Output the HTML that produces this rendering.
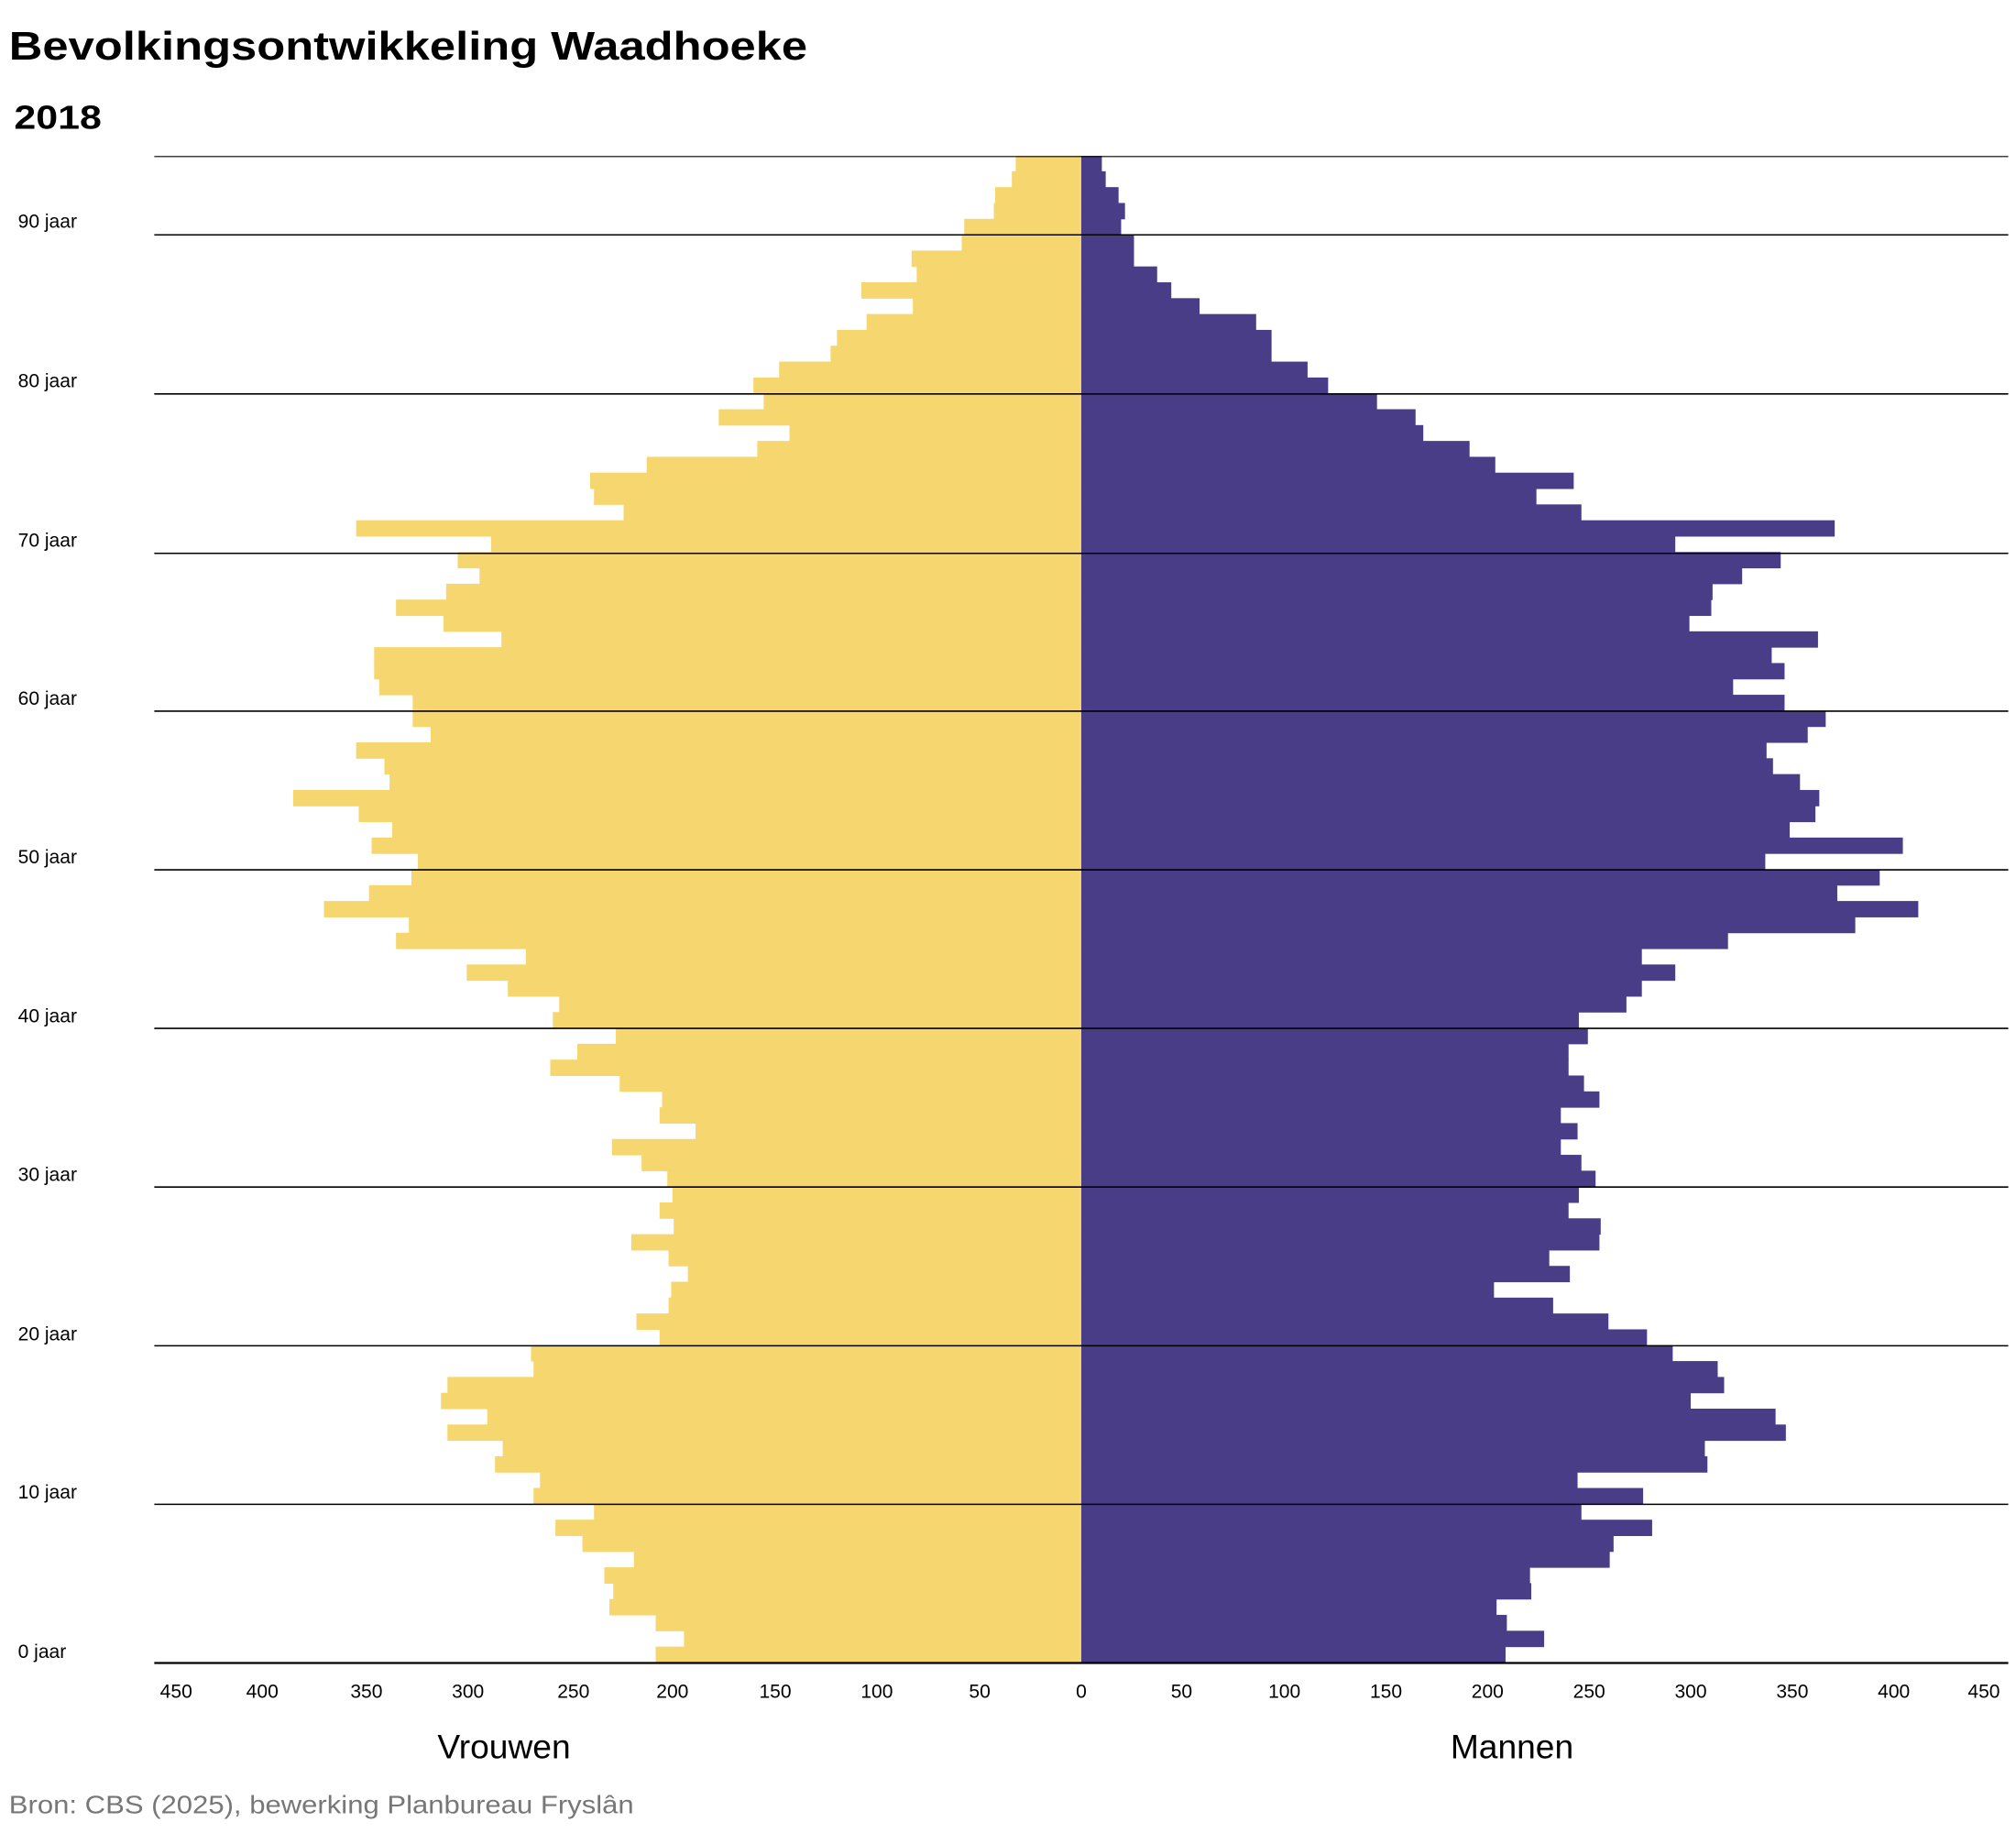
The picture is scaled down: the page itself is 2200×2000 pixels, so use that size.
<!DOCTYPE html>
<html><head><meta charset="utf-8"><style>html,body{margin:0;padding:0;background:#fff}svg{display:block}</style></head>
<body>
<svg width="2200" height="2000" viewBox="0 0 1568 1425" xmlns="http://www.w3.org/2000/svg" font-family="Liberation Sans, sans-serif">
<rect width="1568" height="1425" fill="#fff"/>
<text x="7" y="46" font-size="31" font-weight="bold" textLength="621" lengthAdjust="spacingAndGlyphs">Bevolkingsontwikkeling Waadhoeke</text>
<text x="11" y="100" font-size="26" font-weight="bold" textLength="68" lengthAdjust="spacingAndGlyphs">2018</text>
<g transform="matrix(1 0 0 -12.337 0 1293)">
<g fill="#F5D66F">
<rect x="510" y="0" width="331" height="1.03"/><rect x="532" y="1" width="309" height="1.03"/><rect x="510" y="2" width="331" height="1.03"/><rect x="474" y="3" width="367" height="1.03"/><rect x="477" y="4" width="364" height="1.03"/><rect x="470" y="5" width="371" height="1.03"/><rect x="493" y="6" width="348" height="1.03"/><rect x="453" y="7" width="388" height="1.03"/><rect x="432" y="8" width="409" height="1.03"/><rect x="462" y="9" width="379" height="1.03"/>
<rect x="415" y="10" width="426" height="1.03"/><rect x="420" y="11" width="421" height="1.03"/><rect x="385" y="12" width="456" height="1.03"/><rect x="391" y="13" width="450" height="1.03"/><rect x="348" y="14" width="493" height="1.03"/><rect x="379" y="15" width="462" height="1.03"/><rect x="343" y="16" width="498" height="1.03"/><rect x="348" y="17" width="493" height="1.03"/><rect x="415" y="18" width="426" height="1.03"/><rect x="413" y="19" width="428" height="1.03"/>
<rect x="513" y="20" width="328" height="1.03"/><rect x="495" y="21" width="346" height="1.03"/><rect x="520" y="22" width="321" height="1.03"/><rect x="522" y="23" width="319" height="1.03"/><rect x="535" y="24" width="306" height="1.03"/><rect x="520" y="25" width="321" height="1.03"/><rect x="491" y="26" width="350" height="1.03"/><rect x="524" y="27" width="317" height="1.03"/><rect x="513" y="28" width="328" height="1.03"/><rect x="523" y="29" width="318" height="1.03"/>
<rect x="519" y="30" width="322" height="1.03"/><rect x="499" y="31" width="342" height="1.03"/><rect x="476" y="32" width="365" height="1.03"/><rect x="541" y="33" width="300" height="1.03"/><rect x="513" y="34" width="328" height="1.03"/><rect x="515" y="35" width="326" height="1.03"/><rect x="482" y="36" width="359" height="1.03"/><rect x="428" y="37" width="413" height="1.03"/><rect x="449" y="38" width="392" height="1.03"/><rect x="479" y="39" width="362" height="1.03"/>
<rect x="430" y="40" width="411" height="1.03"/><rect x="435" y="41" width="406" height="1.03"/><rect x="395" y="42" width="446" height="1.03"/><rect x="363" y="43" width="478" height="1.03"/><rect x="409" y="44" width="432" height="1.03"/><rect x="308" y="45" width="533" height="1.03"/><rect x="318" y="46" width="523" height="1.03"/><rect x="252" y="47" width="589" height="1.03"/><rect x="287" y="48" width="554" height="1.03"/><rect x="320" y="49" width="521" height="1.03"/>
<rect x="325" y="50" width="516" height="1.03"/><rect x="289" y="51" width="552" height="1.03"/><rect x="305" y="52" width="536" height="1.03"/><rect x="279" y="53" width="562" height="1.03"/><rect x="228" y="54" width="613" height="1.03"/><rect x="303" y="55" width="538" height="1.03"/><rect x="299" y="56" width="542" height="1.03"/><rect x="277" y="57" width="564" height="1.03"/><rect x="335" y="58" width="506" height="1.03"/><rect x="321" y="59" width="520" height="1.03"/>
<rect x="321" y="60" width="520" height="1.03"/><rect x="295" y="61" width="546" height="1.03"/><rect x="291" y="62" width="550" height="1.03"/><rect x="291" y="63" width="550" height="1.03"/><rect x="390" y="64" width="451" height="1.03"/><rect x="345" y="65" width="496" height="1.03"/><rect x="308" y="66" width="533" height="1.03"/><rect x="347" y="67" width="494" height="1.03"/><rect x="373" y="68" width="468" height="1.03"/><rect x="356" y="69" width="485" height="1.03"/>
<rect x="382" y="70" width="459" height="1.03"/><rect x="277" y="71" width="564" height="1.03"/><rect x="485" y="72" width="356" height="1.03"/><rect x="462" y="73" width="379" height="1.03"/><rect x="459" y="74" width="382" height="1.03"/><rect x="503" y="75" width="338" height="1.03"/><rect x="589" y="76" width="252" height="1.03"/><rect x="614" y="77" width="227" height="1.03"/><rect x="559" y="78" width="282" height="1.03"/><rect x="594" y="79" width="247" height="1.03"/>
<rect x="586" y="80" width="255" height="1.03"/><rect x="606" y="81" width="235" height="1.03"/><rect x="646" y="82" width="195" height="1.03"/><rect x="651" y="83" width="190" height="1.03"/><rect x="674" y="84" width="167" height="1.03"/><rect x="710" y="85" width="131" height="1.03"/><rect x="670" y="86" width="171" height="1.03"/><rect x="713" y="87" width="128" height="1.03"/><rect x="709" y="88" width="132" height="1.03"/><rect x="748" y="89" width="93" height="1.03"/>
<rect x="750" y="90" width="91" height="1.03"/><rect x="773" y="91" width="68" height="1.03"/><rect x="774" y="92" width="67" height="1.03"/><rect x="787" y="93" width="54" height="1.03"/><rect x="790" y="94" width="51" height="1"/>
</g>
<g fill="#4A3D88">
<rect x="841" y="0" width="330" height="1.03"/><rect x="841" y="1" width="360" height="1.03"/><rect x="841" y="2" width="331" height="1.03"/><rect x="841" y="3" width="323" height="1.03"/><rect x="841" y="4" width="350" height="1.03"/><rect x="841" y="5" width="349" height="1.03"/><rect x="841" y="6" width="411" height="1.03"/><rect x="841" y="7" width="414" height="1.03"/><rect x="841" y="8" width="444" height="1.03"/><rect x="841" y="9" width="389" height="1.03"/>
<rect x="841" y="10" width="437" height="1.03"/><rect x="841" y="11" width="386" height="1.03"/><rect x="841" y="12" width="487" height="1.03"/><rect x="841" y="13" width="485" height="1.03"/><rect x="841" y="14" width="548" height="1.03"/><rect x="841" y="15" width="540" height="1.03"/><rect x="841" y="16" width="474" height="1.03"/><rect x="841" y="17" width="500" height="1.03"/><rect x="841" y="18" width="495" height="1.03"/><rect x="841" y="19" width="460" height="1.03"/>
<rect x="841" y="20" width="440" height="1.03"/><rect x="841" y="21" width="410" height="1.03"/><rect x="841" y="22" width="367" height="1.03"/><rect x="841" y="23" width="321" height="1.03"/><rect x="841" y="24" width="380" height="1.03"/><rect x="841" y="25" width="364" height="1.03"/><rect x="841" y="26" width="403" height="1.03"/><rect x="841" y="27" width="404" height="1.03"/><rect x="841" y="28" width="379" height="1.03"/><rect x="841" y="29" width="387" height="1.03"/>
<rect x="841" y="30" width="400" height="1.03"/><rect x="841" y="31" width="389" height="1.03"/><rect x="841" y="32" width="373" height="1.03"/><rect x="841" y="33" width="386" height="1.03"/><rect x="841" y="34" width="373" height="1.03"/><rect x="841" y="35" width="403" height="1.03"/><rect x="841" y="36" width="391" height="1.03"/><rect x="841" y="37" width="379" height="1.03"/><rect x="841" y="38" width="379" height="1.03"/><rect x="841" y="39" width="394" height="1.03"/>
<rect x="841" y="40" width="387" height="1.03"/><rect x="841" y="41" width="424" height="1.03"/><rect x="841" y="42" width="436" height="1.03"/><rect x="841" y="43" width="462" height="1.03"/><rect x="841" y="44" width="436" height="1.03"/><rect x="841" y="45" width="503" height="1.03"/><rect x="841" y="46" width="602" height="1.03"/><rect x="841" y="47" width="651" height="1.03"/><rect x="841" y="48" width="588" height="1.03"/><rect x="841" y="49" width="621" height="1.03"/>
<rect x="841" y="50" width="532" height="1.03"/><rect x="841" y="51" width="639" height="1.03"/><rect x="841" y="52" width="551" height="1.03"/><rect x="841" y="53" width="571" height="1.03"/><rect x="841" y="54" width="574" height="1.03"/><rect x="841" y="55" width="559" height="1.03"/><rect x="841" y="56" width="538" height="1.03"/><rect x="841" y="57" width="533" height="1.03"/><rect x="841" y="58" width="565" height="1.03"/><rect x="841" y="59" width="579" height="1.03"/>
<rect x="841" y="60" width="547" height="1.03"/><rect x="841" y="61" width="507" height="1.03"/><rect x="841" y="62" width="547" height="1.03"/><rect x="841" y="63" width="537" height="1.03"/><rect x="841" y="64" width="573" height="1.03"/><rect x="841" y="65" width="473" height="1.03"/><rect x="841" y="66" width="490" height="1.03"/><rect x="841" y="67" width="491" height="1.03"/><rect x="841" y="68" width="514" height="1.03"/><rect x="841" y="69" width="544" height="1.03"/>
<rect x="841" y="70" width="462" height="1.03"/><rect x="841" y="71" width="586" height="1.03"/><rect x="841" y="72" width="389" height="1.03"/><rect x="841" y="73" width="354" height="1.03"/><rect x="841" y="74" width="383" height="1.03"/><rect x="841" y="75" width="322" height="1.03"/><rect x="841" y="76" width="302" height="1.03"/><rect x="841" y="77" width="266" height="1.03"/><rect x="841" y="78" width="260" height="1.03"/><rect x="841" y="79" width="230" height="1.03"/>
<rect x="841" y="80" width="192" height="1.03"/><rect x="841" y="81" width="176" height="1.03"/><rect x="841" y="82" width="148" height="1.03"/><rect x="841" y="83" width="148" height="1.03"/><rect x="841" y="84" width="136" height="1.03"/><rect x="841" y="85" width="92" height="1.03"/><rect x="841" y="86" width="70" height="1.03"/><rect x="841" y="87" width="59" height="1.03"/><rect x="841" y="88" width="41" height="1.03"/><rect x="841" y="89" width="41" height="1.03"/>
<rect x="841" y="90" width="31" height="1.03"/><rect x="841" y="91" width="34" height="1.03"/><rect x="841" y="92" width="29" height="1.03"/><rect x="841" y="93" width="19" height="1.03"/><rect x="841" y="94" width="16" height="1"/>
</g>
</g>
<g stroke="#000" stroke-width="1.1">
<line x1="120" x2="1562" y1="121.5" y2="121.5" stroke-width="0.8"/>
<line x1="120" x2="1562" y1="182.4" y2="182.4"/>
<line x1="120" x2="1562" y1="306.1" y2="306.1"/>
<line x1="120" x2="1562" y1="430.1" y2="430.1"/>
<line x1="120" x2="1562" y1="552.8" y2="552.8"/>
<line x1="120" x2="1562" y1="676.2" y2="676.2"/>
<line x1="120" x2="1562" y1="799.5" y2="799.5"/>
<line x1="120" x2="1562" y1="922.9" y2="922.9"/>
<line x1="120" x2="1562" y1="1046.3" y2="1046.3"/>
<line x1="120" x2="1562" y1="1169.6" y2="1169.6"/>
<line x1="120" x2="1562" y1="1293" y2="1293" stroke-width="1.6"/>
</g>
<g font-size="15" fill="#000">
<text x="14" y="177">90 jaar</text>
<text x="14" y="301">80 jaar</text>
<text x="14" y="425">70 jaar</text>
<text x="14" y="548">60 jaar</text>
<text x="14" y="671">50 jaar</text>
<text x="14" y="795">40 jaar</text>
<text x="14" y="918">30 jaar</text>
<text x="14" y="1042">20 jaar</text>
<text x="14" y="1165">10 jaar</text>
<text x="14" y="1289">0 jaar</text>
</g>
<g font-size="15" fill="#000" text-anchor="middle">
<text x="137" y="1320">450</text><text x="204" y="1320">400</text><text x="285" y="1320">350</text><text x="364" y="1320">300</text><text x="446" y="1320">250</text><text x="523" y="1320">200</text><text x="603" y="1320">150</text><text x="682" y="1320">100</text><text x="762" y="1320">50</text><text x="841" y="1320">0</text>
<text x="919" y="1320">50</text><text x="999" y="1320">100</text><text x="1078" y="1320">150</text><text x="1157" y="1320">200</text><text x="1236" y="1320">250</text><text x="1315" y="1320">300</text><text x="1394" y="1320">350</text><text x="1473" y="1320">400</text><text x="1543" y="1320">450</text>
</g>
<text x="392" y="1367" font-size="26.5" text-anchor="middle">Vrouwen</text>
<text x="1176" y="1367" font-size="26.5" text-anchor="middle">Mannen</text>
<text x="7" y="1410" font-size="20" fill="#777" textLength="486" lengthAdjust="spacingAndGlyphs">Bron: CBS (2025), bewerking Planbureau Fryslân</text>
</svg>
</body></html>
